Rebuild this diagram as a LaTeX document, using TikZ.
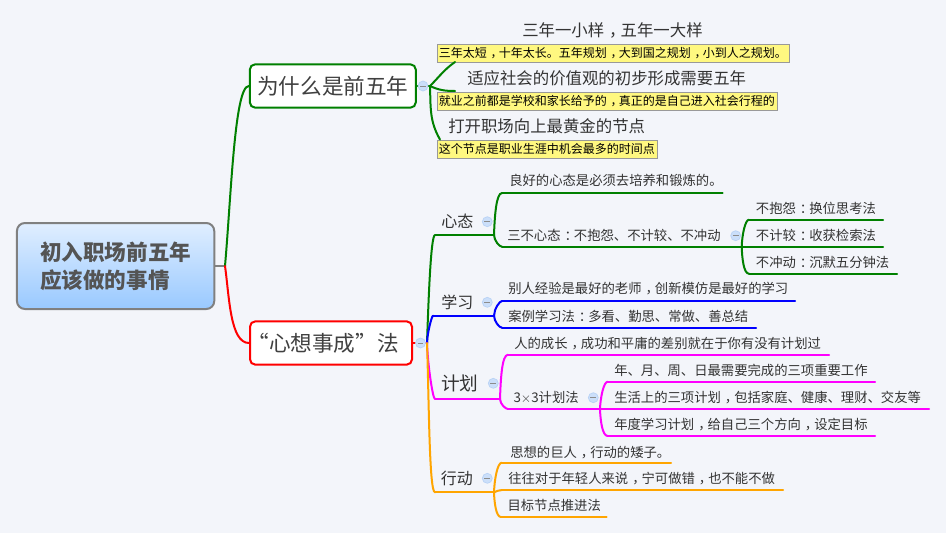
\documentclass[tikz,border=0pt]{standalone}
\usepackage{fontspec}
\setmainfont{Noto Sans CJK SC}
\usepackage{tikz}
\definecolor{pagebg}{HTML}{F3F5FA}
\definecolor{darkgreen}{HTML}{008000}
\definecolor{pure orange}{HTML}{FFA500}
\definecolor{pure magenta}{HTML}{FF00FF}
\definecolor{pure blue}{HTML}{0000FF}
\definecolor{pure red}{HTML}{FF0000}
\definecolor{rootTop}{HTML}{E0EEFF}
\definecolor{rootBottom}{HTML}{99C9FF}
\definecolor{markFill}{HTML}{CBDFFA}
\definecolor{markLine}{HTML}{B8D2F5}
\newcommand{\fwcomma}{\hspace{.3em}\makebox[.7em][l]{\char"FF0C\relax}}
\newcommand{\fwcolon}{\hspace{.3em}\makebox[.7em][l]{\char"FF1A\relax}}
\tikzset{
	branch/.style = {line width = 1.5pt, line cap = round},
	central/.style = {draw = black!50, line width = 1.5pt, rounded corners = 6pt, top color = rootTop, bottom color = rootBottom, minimum width = 148pt, minimum height = 64.5pt, align = left, text = black!67, font = \fontsize{16.2}{21}\selectfont\bfseries},
	topicbox/.style = {draw, fill = white, line width = 1.5pt, rounded corners = 4pt, minimum height = 32.5pt, text = black!75, font = \fontsize{16.2}{20}\selectfont},
	leaf/.style = {anchor = west, inner sep = 0mm, xshift = -0.75pt, text = black!80, font = \fontsize{10}{12}\selectfont},
	title/.style = {anchor = west, inner sep = 0mm, xshift = -0.75pt, text = black!80, font = \fontsize{12.3}{14}\selectfont},
	note/.style = {anchor = north west, draw = black!40, fill = yellow!50, line width = 0.6pt, inner xsep = 1.5pt, inner ysep = 0pt, minimum height = 13.5pt, font = \fontsize{9}{11}\selectfont},
	collapse/.style = {circle, minimum size = 7.5pt, inner sep = 0mm, draw = markLine, line width = 0.5pt, fill = markFill, path picture = {\draw [black!45, line width = 0.5pt] ([xshift = 1.6pt]path picture bounding box.west) -- ([xshift = -1.6pt]path picture bounding box.east);}},
	trunk up/.style = {out = 88, in = 180, in looseness = 0.1},
	trunk down/.style = {out = 272, in = 180, in looseness = 0.1},
	bend up/.style = {out = 88, in = 180, out looseness = 1.1, in looseness = 0.35},
	bend down/.style = {out = 272, in = 180, in looseness = 0.5}
}
\begin{document}
\begin{tikzpicture}[x = 0.75pt, y = -0.75pt]
	\fill [pagebg] (0, 0) rectangle (946, 533);
	\useasboundingbox (0, 0) rectangle (946, 533);

	% boxes
	\node [central] (root) at (115.6, 266) {初入职场前五年\\应该做的事情};
	\node [topicbox, draw = darkgreen, minimum width = 124.5pt] (why) at (332.8, 86) {为什么是前五年};
	\node [topicbox, draw = pure red, minimum width = 121.5pt] (wish) at (331, 343) {\kern-6pt“心想事成”法\kern6pt};
	\coordinate (rootj) at (225, 266);
	\coordinate (whyj) at (430, 86);
	\coordinate (wishj) at (427, 343);

	% first topic, titles with their notes
	\node [title] (titleA) at (523, 30) {三年一小样\fwcomma 五年一大样};
	\node [title] (titleB) at (468, 78) {适应社会的价值观的初步形成需要五年};
	\node [title] (titleC) at (449, 126) {打开职场向上最黄金的节点};
	\node [note] (noteA) at (436.5, 43.5) {三年太短\fwcomma 十年太长。五年规划\fwcomma 大到国之规划\fwcomma 小到人之规划。};
	\node [note] (noteB) at (436.5, 91.5) {就业之前都是学校和家长给予的\fwcomma 真正的是自己进入社会行程的};
	\node [note] (noteC) at (436.5, 139.5) {这个节点是职业生涯中机会最多的时间点};
	\coordinate (noteAin) at (455, 62);
	\coordinate (noteBin) at (455, 91);
	\coordinate (noteCin) at (440, 139.5);

	% second topic, one line per underlined text
	\foreach\name/\col/\tx/\ty/\size/\xs/\ly/\xe/\txt in {
		heart/darkgreen/442/221.7/12/435/235/494/心态,
		good/darkgreen/510/180.7/10/502/193/722.6/良好的心态是必须去培养和锻炼的。,
		three/darkgreen/508/235.7/10/502/246.7/741.7/三不心态\fwcolon 不抱怨、不计较、不冲动,
		nocomp/darkgreen/756.7/208.3/10/749/219.7/883/不抱怨\fwcolon 换位思考法,
		nocalc/darkgreen/756.7/235.7/10/741.7/246.7/883/不计较\fwcolon 收获检索法,
		noimp/darkgreen/756.7/262.3/10/749/273.7/897/不冲动\fwcolon 沉默五分钟法,
		study/pure blue/442/302.3/12/433/315.7/494/学习,
		others/pure blue/509/289/10/502/301/795/别人经验是最好的老师\fwcomma 创新模仿是最好的学习,
		cases/pure blue/509/316.7/10/502/327.7/756/案例学习法\fwcolon 多看、勤思、常做、善总结,
		plan/pure magenta/442/383.3/14/435/399/500/计划,
		growth/pure magenta/515/343.3/10/508/354.7/829/人的成长\fwcomma 成功和平庸的差别就在于你有没有计划过,
		grid/pure magenta/514.3/397.7/10/508/409/600/3$\times$3计划法,
		yearly/pure magenta/615/370.7/10/607.7/381.7/875/年、月、周、日最需要完成的三项重要工作,
		life/pure magenta/615/397.7/10/600/409/929/生活上的三项计划\fwcomma 包括家庭、健康、理财、交友等,
		learn/pure magenta/615/424.7/10/607.7/436/875/年度学习计划\fwcomma 给自己三个方向\fwcomma 设定目标,
		act/pure orange/441.7/478.3/12/435/492.3/494/行动,
		giant/pure orange/511/452.3/10/501.7/462.7/671/思想的巨人\fwcomma 行动的矮子。,
		young/pure orange/509/478.3/10/502/490/783/往往对于年轻人来说\fwcomma 宁可做错\fwcomma 也不能不做,
		target/pure orange/508.3/505.3/10/501/517/606.7/目标节点推进法%
	}{
		\node [leaf, font = \fontsize{\size}{14}\selectfont] (\name) at (\tx, \ty) {\txt};
		\coordinate (\name s) at (\xs, \ly);
		\coordinate (\name e) at (\xe, \ly);
		\draw [branch, \col] (\name s) -- (\name e);
	}

	% connectors
	\draw [line width = 1.5pt, black!50] (root.east) -- (rootj);
	\draw [branch, darkgreen] (rootj) to [out = 85, in = 180, in looseness = 0.2] (why.west);
	\draw [branch, pure red] (rootj) to [out = 278, in = 180, in looseness = 0.6] (wish.west);
	\draw [branch, darkgreen] (why.east) -- (whyj);
	\draw [branch, pure red] (wish.east) -- (wishj);
	\draw [branch, darkgreen] (whyj) to [out = 45, in = 215] (noteAin);
	\draw [branch, darkgreen] (whyj) to [out = 335, in = 180] (noteBin);
	\draw [branch, darkgreen] (whyj) to [out = 272, in = 120] (noteCin);

	\draw [branch, darkgreen] (wishj) to [trunk up] (hearts);
	\draw [branch, pure blue] (wishj) to [trunk up] (studys);
	\draw [branch, pure magenta] (wishj) to [trunk down] (plans);
	\draw [branch, pure orange] (wishj) to [trunk down] (acts);

	\foreach\from/\upper/\lower/\col in {
		heart/good/three/darkgreen,
		three/nocomp/noimp/darkgreen,
		study/others/cases/pure blue,
		plan/growth/grid/pure magenta,
		grid/yearly/learn/pure magenta,
		act/giant/target/pure orange%
	}{
		\draw [branch, \col] (\from e) to [bend up] (\upper s);
		\draw [branch, \col] (\from e) to [bend down] (\lower s);
	}
	\draw [branch, pure orange] (acte) to [out = 20, in = 180] (youngs);

	% collapse marks
	\node [collapse] (markwhy) at (423, 86) {};
	\node [collapse] (markwish) at (420.5, 343) {};
	\node [collapse] (markheart) at (487.3, 221.7) {};
	\node [collapse] (markthree) at (735.7, 235.7) {};
	\node [collapse] (markstudy) at (487.3, 302.3) {};
	\node [collapse] (markplan) at (493.3, 383.3) {};
	\node [collapse] (markgrid) at (593.3, 397.7) {};
	\node [collapse] (markact) at (487.3, 478.3) {};
\end{tikzpicture}
\end{document}
